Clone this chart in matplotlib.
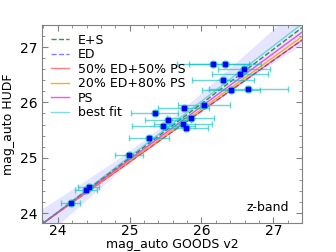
import matplotlib
matplotlib.use('Agg')
import matplotlib.pyplot as plt
import numpy as np
from matplotlib.ticker import MultipleLocator

# Magnitudes GOODS v2 vs HUDF (z-band)
mag_goods = [26.16, 26.33, 26.59, 26.53, 26.30, 26.41, 26.65, 26.04, 25.75, 25.35,
             25.54, 25.85, 25.74, 25.47, 25.78, 25.27, 24.99, 24.43, 24.39, 24.18]
mag_hudf = [26.69, 26.70, 26.61, 26.51, 26.40, 26.22, 26.25, 25.96, 25.90, 25.80,
            25.68, 25.72, 25.61, 25.58, 25.54, 25.35, 25.05, 24.47, 24.42, 24.18]
err_goods = [0.50, 0.50, 0.36, 0.39, 0.43, 0.40, 0.55, 0.36, 0.36, 0.33,
             0.32, 0.33, 0.40, 0.44, 0.31, 0.28, 0.19, 0.15, 0.15, 0.13]

# Model lines (slope, intercept)
model_labels = ['E+S', 'ED', '50% ED+50% PS', '20% ED+80% PS', 'PS', 'best fit']
model_slopes = [0.981, 0.917, 0.919, 0.936, 0.958, 1.000]
model_intercepts = [0.472, 2.000, 1.948, 1.543, 1.020, 0.020]
model_styles = [dict(color='green', ls='--', alpha=0.8),
                dict(color='blue', ls='--', alpha=0.5),
                dict(color='red', ls='-', alpha=0.5),
                dict(color='orange', ls='-', alpha=0.9),
                dict(color='magenta', ls='-', alpha=0.7),
                dict(color='c', ls='-', alpha=0.5)]

# Incertidumbre del ajuste
fit_pivot = 25.3
fit_err0 = 0.10
fit_slope_err = 0.17

xmin, xmax = 23.78, 27.4
ymin, ymax = 23.82, 27.4

fig = plt.figure(figsize=(3.36, 2.52), dpi=100)
ax = fig.add_axes([0.125, 0.115, 0.774, 0.786])

xx = np.linspace(xmin, xmax, 200)
yfit = model_slopes[-1] * xx + model_intercepts[-1]
hw = np.sqrt(fit_err0**2 + (fit_slope_err * (xx - fit_pivot))**2)
ax.fill_between(xx, yfit - hw, yfit + hw, color='blue', alpha=0.1, lw=0)

for lab, s, b, st in zip(model_labels, model_slopes, model_intercepts, model_styles):
    ax.plot(xx, s * xx + b, lw=1, label=lab, **st)

ax.errorbar(mag_goods, mag_hudf, xerr=err_goods, fmt='o', color='c', ms=5,
            alpha=0.6, capsize=2, elinewidth=1, zorder=3)
ax.plot(mag_goods, mag_hudf, 's', color='blue', ms=3.5, zorder=4)

ax.set_xlim(xmin, xmax)
ax.set_ylim(ymin, ymax)
ax.set_xticks([24, 25, 26, 27])
ax.set_yticks([24, 25, 26, 27])
ax.xaxis.set_minor_locator(MultipleLocator(0.2))
ax.yaxis.set_minor_locator(MultipleLocator(0.2))
ax.tick_params(which='both', direction='in', top=True, right=True, color='gray', labelsize=10)
ax.tick_params(which='major', length=4)
ax.tick_params(which='minor', length=2)
ax.tick_params(axis='x', pad=1)
for sp in ax.spines.values():
    sp.set_color('gray')

ax.set_xlabel('mag_auto GOODS v2', fontsize=9, labelpad=-0.5)
ax.set_ylabel('mag_auto HUDF', fontsize=9, labelpad=3)
ax.text(0.95, 0.08, 'z-band', transform=ax.transAxes, ha='right', va='center', fontsize=9)

ax.legend(loc='upper left', frameon=False, fontsize=9, handlelength=1.45,
          handletextpad=0.7, labelspacing=0.12, borderaxespad=0.3)

fig.savefig('out.png', dpi=100)
